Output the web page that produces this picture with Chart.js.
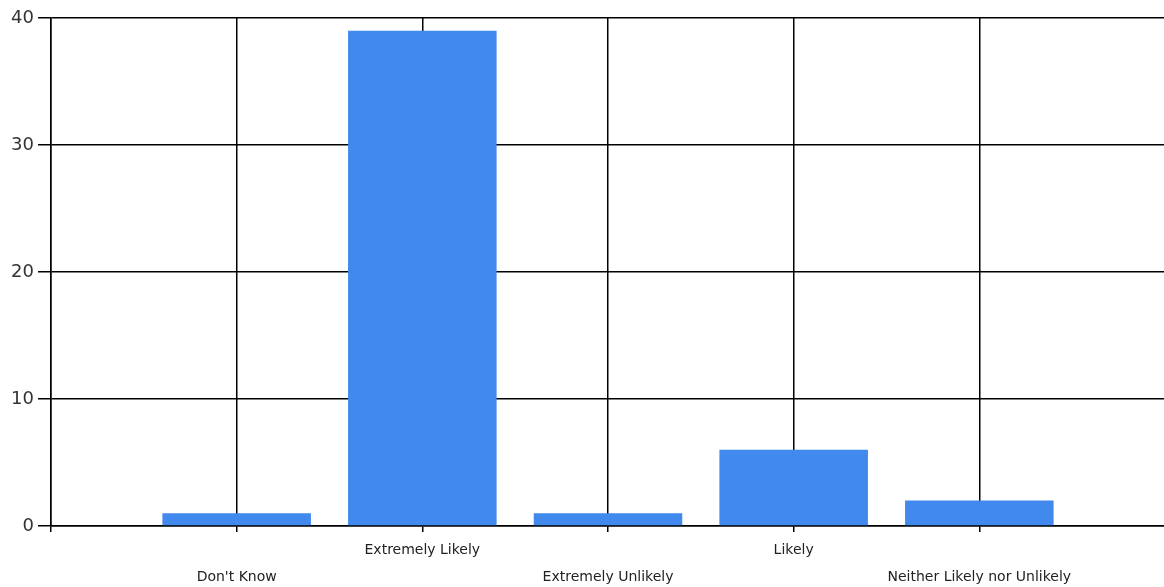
<!DOCTYPE html>
<html>
<head>
<meta charset="utf-8">
<script src="https://cdn.jsdelivr.net/npm/chart.js@4/dist/chart.umd.min.js"></script>
<style>
  html, body { margin: 0; padding: 0; background: #fff; overflow: hidden; }
  #wrap { width: 1170px; height: 596px; }
</style>
</head>
<body>
<div id="wrap"><canvas id="chart"></canvas></div>
<script>
// Chart data
const categories = ["Don't Know", 'Extremely Likely', 'Extremely Unlikely', 'Likely', 'Neither Likely nor Unlikely'];
const counts = [1, 39, 1, 6, 2];
const yTicks = [0, 10, 20, 30, 40];

// empty slot on each side, like the original axis
const labels = [''].concat(categories, ['']);
const values = [null].concat(counts, [null]);

new Chart(document.getElementById('chart'), {
    type: 'bar',
    data: {
        labels: labels,
        datasets: [{
            data: values,
            backgroundColor: '#4189ec',
            barPercentage: 0.8,
            categoryPercentage: 1
        }]
    },
    options: {
        responsive: true,
        maintainAspectRatio: false,
        animation: false,
        layout: { padding: { top: 18, right: 0, bottom: 0, left: 0 } },
        plugins: {
            legend: { display: false },
            tooltip: { enabled: false }
        },
        scales: {
            x: {
                offset: false,
                grid: { offset: false, color: '#000', lineWidth: 1.5, tickLength: 6 },
                border: { color: '#000', width: 1.5 },
                ticks: {
                    autoSkip: false,
                    maxRotation: 0,
                    padding: 5,
                    color: '#222',
                    font: { family: 'DejaVu Sans', size: 14, lineHeight: '27px' },
                    callback: function (v, i) {
                        const t = labels[i];
                        if (!t) return '';
                        return i % 2 === 1 ? ['', t] : [t, ''];
                    }
                }
            },
            y: {
                min: yTicks[0],
                max: yTicks[yTicks.length - 1],
                afterBuildTicks: function (s) { s.ticks = yTicks.map(v => ({ value: v })); },
                afterFit: function (s) { s.width = 51; },
                grid: { color: '#000', lineWidth: 1.5, tickLength: 13 },
                border: { color: '#000', width: 1.5 },
                ticks: {
                    padding: 4,
                    color: '#333',
                    font: { family: 'DejaVu Sans', size: 18 }
                }
            }
        }
    }
});
</script>
</body>
</html>
